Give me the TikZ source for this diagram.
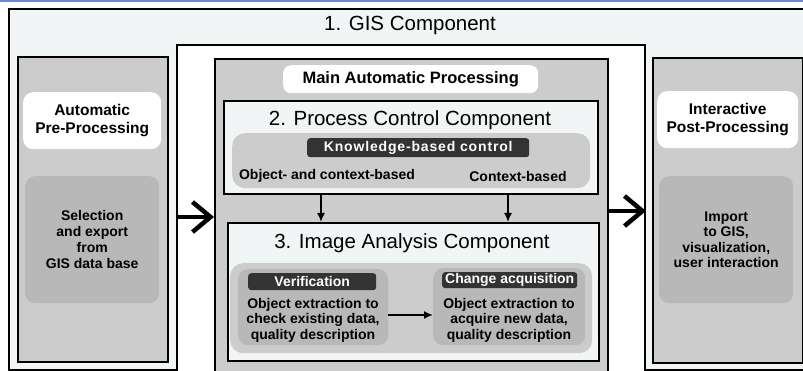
\documentclass[tikz,border=0pt]{standalone}
\usepackage{fontspec}
\setmainfont{Liberation Sans}
\usetikzlibrary{arrows.meta}
\definecolor{bgc}{HTML}{F2F5F5}
\definecolor{panel}{HTML}{CCCCCC}
\definecolor{innerg}{HTML}{B8B8B8}
\definecolor{darkl}{HTML}{333333}
\definecolor{topblue}{HTML}{6F87DD}
\begin{document}
\begin{tikzpicture}[x=1pt,y=-1pt,
  box/.style={draw=black,line width=2pt,anchor=north west,inner sep=0pt,rectangle},
  lbl/.style={fill=white,rounded corners=10pt,anchor=north west,inner sep=0pt,align=center,font=\fontsize{15.5}{17.5}\selectfont\bfseries},
  inbox/.style={fill=innerg,rounded corners=10pt,anchor=north west,inner sep=0pt,align=center,font=\fontsize{14}{15.5}\selectfont\bfseries},
  darklbl/.style={fill=darkl,text=white,rounded corners=3pt,anchor=north west,inner sep=0pt,font=\fontsize{14}{15}\selectfont\bfseries},
  band/.style={fill=panel,rounded corners=13pt,anchor=north west,inner sep=0pt},
  ttl/.style={font=\fontsize{20.5}{22}\selectfont,inner sep=0pt},
  btxt/.style={font=\fontsize{14}{15}\selectfont\bfseries,inner sep=0pt},
  bigarr/.style={line width=4.5pt,-{Straight Barb[length=18pt,width=30pt]}},
  smallarr/.style={line width=1.6pt,-{Latex[length=9pt,width=8pt]}}]
\clip (0,0) rectangle (803,371);
\useasboundingbox (0,0) rectangle (803,371);
\fill[white] (0,0) rectangle (803,371);
\draw[topblue,line width=1.6pt] (0,0.8) -- (803,0.8);
% GIS component
\node[box,fill=bgc,minimum width=810pt,minimum height=361pt] (gis) at (8,8) {};
\node[ttl] (gist) at (410,25) {1. GIS Component};
\node[box,fill=white,minimum width=468pt,minimum height=345pt] (auto) at (176,44) {};
% left panel
\node[box,fill=panel,minimum width=150pt,minimum height=305pt] (pre) at (17,56) {};
\node[lbl,minimum width=138pt,minimum height=57pt] (prel) at (23,92) {Automatic\\Pre-Processing};
\node[inbox,minimum width=134pt,minimum height=127pt,font=\fontsize{14}{16}\selectfont\bfseries] (sel) at (25,176) {Selection\\and export\\from\\GIS data base};
% right panel
\node[box,fill=panel,minimum width=150pt,minimum height=305pt] (post) at (652,57) {};
\node[lbl,minimum width=141pt,minimum height=57pt] (postl) at (657,91) {Interactive\\Post-Processing};
\node[inbox,minimum width=134pt,minimum height=127pt] (imp) at (659,176) {Import\\to GIS,\\visualization,\\user interaction};
% main processing
\node[box,fill=panel,minimum width=393pt,minimum height=340pt] (main) at (214,58) {};
\node[lbl,minimum width=255pt,minimum height=28pt,rounded corners=8pt,font=\fontsize{16.5}{18}\selectfont\bfseries] (mainl) at (283,65) {Main Automatic Processing};
% process control
\node[box,fill=bgc,minimum width=374pt,minimum height=93pt] (pc) at (223,100) {};
\node[ttl] (pct) at (410,120) {2. Process Control Component};
\node[band,minimum width=358pt,minimum height=55pt] (kb) at (232,133) {};
\node[darklbl,minimum width=222pt,minimum height=19pt] (kbl) at (307,138) {\addfontfeature{LetterSpace=6}Knowledge-based control};
\node[btxt] (oc) at (327,176) {Object- and context-based};
\node[btxt] (cb) at (518,176) {Context-based};
% image analysis
\node[box,fill=bgc,minimum width=371pt,minimum height=138pt] (ia) at (227,222) {};
\node[ttl] (iat) at (412,243) {3. Image Analysis Component};
\node[band,minimum width=362pt,minimum height=90pt] (iab) at (230,263) {};
\node[inbox,minimum width=150pt,minimum height=76pt] (ver) at (238,269) {};
\node[darklbl,minimum width=128pt,minimum height=17pt] (verl) at (248,273) {Verification};
\node[inner sep=0pt,align=center,font=\fontsize{14}{15.5}\selectfont\bfseries] (vert) at (313,320) {Object extraction to\\check existing data,\\quality description};
\node[inbox,minimum width=152pt,minimum height=77pt] (chg) at (433,268) {};
\node[darklbl,minimum width=135pt,minimum height=16pt] (chgl) at (442,272) {Change acquisition};
\node[inner sep=0pt,align=center,font=\fontsize{14}{15.5}\selectfont\bfseries] (chgt) at (509,320) {Object extraction to\\acquire new data,\\quality description};
% connectors
\coordinate (xa) at (321,0);
\coordinate (xb) at (508,0);
\coordinate (ya) at (0,217);
\coordinate (yb) at (0,211);
\coordinate (yc) at (0,315);
\draw[smallarr] (pc.south -| xa) -- (ia.north -| xa);
\draw[smallarr] (pc.south -| xb) -- (ia.north -| xb);
\draw[smallarr] (ver.east |- yc) -- (chg.west |- yc);
\draw[bigarr] (auto.west |- ya) -- (main.west |- ya);
\draw[bigarr] (main.east |- yb) -- (auto.east |- yb);
\end{tikzpicture}
\end{document}
